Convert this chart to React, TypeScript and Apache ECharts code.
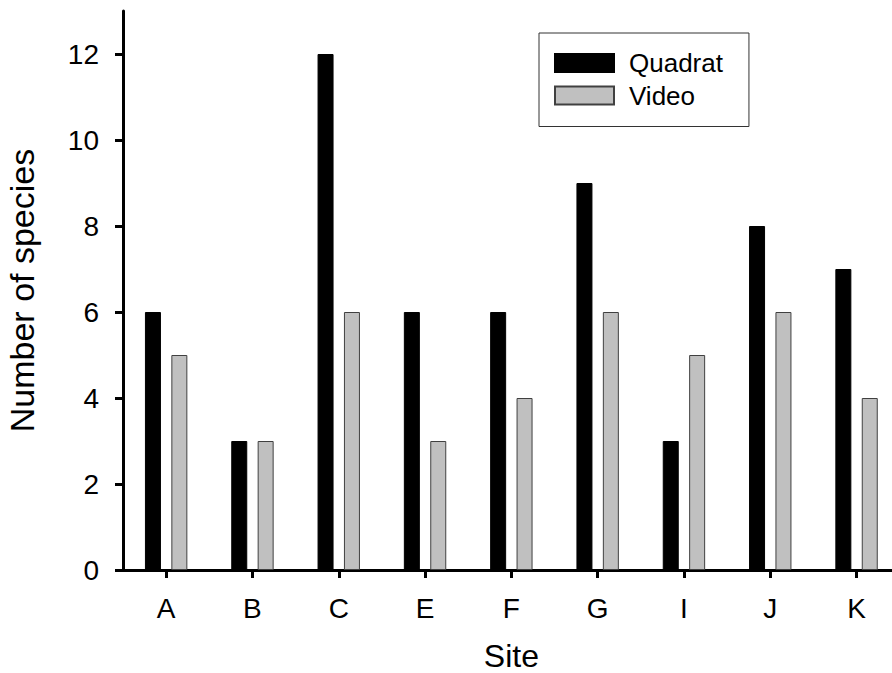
import React, { useEffect, useRef } from "react";
import * as echarts from "echarts";

const sites = ["A", "B", "C", "E", "F", "G", "I", "J", "K"];
const quadrat = [6, 3, 12, 6, 6, 9, 3, 8, 7];
const video = [5, 3, 6, 3, 4, 6, 5, 6, 4];
const yTicks = [0, 2, 4, 6, 8, 10, 12];

const FONT = "'Liberation Sans', Arial, sans-serif";

export default function App() {
  const ref = useRef<HTMLDivElement>(null);
  useEffect(() => {
    document.body.style.margin = "0";
    const chart = echarts.init(ref.current!, null, { renderer: "svg" });
    chart.setOption({
      animation: false,
      backgroundColor: "#ffffff",
      textStyle: { fontFamily: FONT, color: "#000" },
      grid: {
        left: 123,
        top: 11,
        width: 776.7,
        bottom: 103,
        containLabel: false,
        outerBoundsMode: "none",
      },
      legend: {
        orient: "vertical",
        left: 539,
        top: 33,
        padding: [17, 26, 18, 15],
        itemWidth: 59,
        itemHeight: 18,
        itemGap: 6.5,
        icon: "rect",
        borderColor: "#333",
        borderWidth: 1,
        textStyle: { fontFamily: FONT, fontSize: 26, color: "#000", padding: [0, 0, 0, 10] },
        data: ["Quadrat", "Video"],
      },
      xAxis: {
        type: "category",
        data: sites,
        boundaryGap: true,
        name: "Site",
        nameLocation: "middle",
        nameGap: 70,
        nameTextStyle: { fontFamily: FONT, fontSize: 32, color: "#000" },
        axisLine: { show: true, lineStyle: { color: "#000", width: 3 } },
        axisTick: { show: true, alignWithLabel: true, length: 8, lineStyle: { color: "#000", width: 3 } },
        axisLabel: { fontFamily: FONT, fontSize: 28, color: "#000", margin: 24 },
        splitLine: { show: false },
      },
      yAxis: {
        type: "value",
        min: 0,
        max: 13,
        interval: 2,
        name: "Number of species",
        nameLocation: "middle",
        nameGap: 84,
        nameRotate: 90,
        nameTextStyle: { fontFamily: FONT, fontSize: 34, color: "#000" },
        axisLine: { show: true, lineStyle: { color: "#000", width: 3 } },
        axisTick: { show: true, length: 8, customValues: yTicks, lineStyle: { color: "#000", width: 3 } },
        axisLabel: { fontFamily: FONT, fontSize: 28, color: "#000", margin: 24, customValues: yTicks },
        splitLine: { show: false },
      },
      series: [
        {
          name: "Quadrat",
          type: "bar",
          data: quadrat,
          barWidth: 16,
          barGap: "65%",
          itemStyle: { color: "#000000", borderColor: "#000", borderWidth: 1 },
        },
        {
          name: "Video",
          type: "bar",
          data: video,
          barWidth: 16,
          itemStyle: { color: "#c0c0c0", borderColor: "#404040", borderWidth: 1 },
        },
      ],
    });
    return () => chart.dispose();
  }, []);
  return <div ref={ref} style={{ width: 892, height: 673 }} />;
}
